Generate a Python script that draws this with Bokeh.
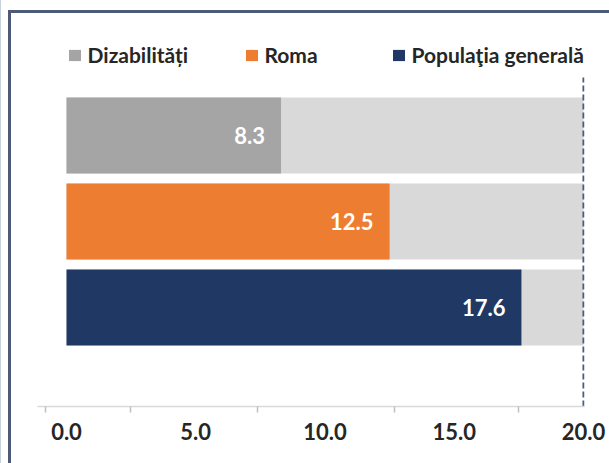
from bokeh.plotting import figure
from bokeh.models import (ColumnDataSource, Range1d, FixedTicker, Legend, LegendItem,
                          LabelSet)
from bokeh.core.properties import value
from bokeh.embed import file_html
from bokeh.resources import INLINE

# ---- data ----
categories = ["Dizabilități", "Roma", "Populaţia generală"]
values = [8.3, 12.5, 17.6]
bar_colors = ["#a5a5a5", "#ed7d31", "#1f3864"]
axis_max = 20.0
tick_values = [0, 5, 10, 15, 20]
tick_labels = ["0.0", "5.0", "10.0", "15.0", "20.0"]
minor_tick_values = [-0.81, 2.48, 7.39, 12.69, 17.49]

FONT = "Lato"
n = len(categories)
ypos = [n - 1 - i for i in range(n)]  # first category on top

src = ColumnDataSource(dict(
    cat=categories, val=values, color=bar_colors, y=ypos,
    full=[axis_max] * n,
    lab=[f"{v:.1f}" for v in values],
))

Y0, Y_REF_TOP, Y1 = -1.151, 2.674, 3.570
p = figure(width=609, height=463, output_backend="svg", toolbar_location=None,
           x_range=Range1d(-1.122, 20.04), y_range=Range1d(Y0, Y1),
           min_border_left=37, min_border_right=25, min_border_top=0,
           min_border_bottom=57)
p.styles = {"box-shadow": ("inset 1px 0 0 0 #c9d1de, inset 8px 10px 0 0 white, "
                           "inset 11px 13px 0 0 #4d5b78")}
p.border_fill_alpha = 0
p.background_fill_alpha = 0
p.outline_line_color = None
p.grid.visible = False
p.yaxis.visible = False

bar_h = 76 / 86
p.hbar(y="y", left=0, right="full", height=bar_h, source=src,
       fill_color="#d9d9d9", line_color=None)
bars = p.hbar(y="y", left=0, right="val", height=bar_h, source=src,
              fill_color="color", line_color=None)

# dashed reference line at the axis maximum
p.segment(x0=[axis_max], y0=[Y0], x1=[axis_max], y1=[Y_REF_TOP],
          line_color="#4a5d7e", line_width=2, line_dash="6 3")

labels = LabelSet(x="val", y="y", text="lab", source=src, x_offset=-16,
                  text_align="right", text_baseline="middle", text_color="white",
                  text_font=value(FONT), text_font_style="bold",
                  text_font_size="22px")
p.add_layout(labels)

ax = p.xaxis[0]
ax.ticker = FixedTicker(ticks=tick_values, minor_ticks=minor_tick_values)
ax.major_label_overrides = {t: l for t, l in zip(tick_values, tick_labels)}
ax.major_tick_out = 0
ax.major_tick_in = 0
ax.minor_tick_out = 6
ax.minor_tick_in = 0
ax.minor_tick_line_color = "#bfbfbf"
ax.minor_tick_line_width = 1.5
ax.axis_line_color = "#d9d9d9"
ax.axis_line_width = 1.5
ax.major_label_standoff = 10
ax.major_label_text_font = FONT
ax.major_label_text_font_style = "bold"
ax.major_label_text_font_size = "22px"
ax.major_label_text_color = "#262626"

# separate legend per item, positioned individually
legend_x = [29.5, 206.5, 353.5]
for i, cat in enumerate(categories):
    leg = Legend(items=[LegendItem(label=cat, renderers=[bars], index=i)],
                 location=(legend_x[i], 339), orientation="horizontal",
                 margin=0, padding=0, border_line_color=None,
                 background_fill_alpha=0, glyph_width=15, glyph_height=14,
                 label_standoff=6, label_height=20,
                 label_text_font=FONT, label_text_font_style="bold",
                 label_text_font_size="21px", label_text_color="#262626")
    p.add_layout(leg)

open("out.html", "w").write(file_html(p, INLINE))
